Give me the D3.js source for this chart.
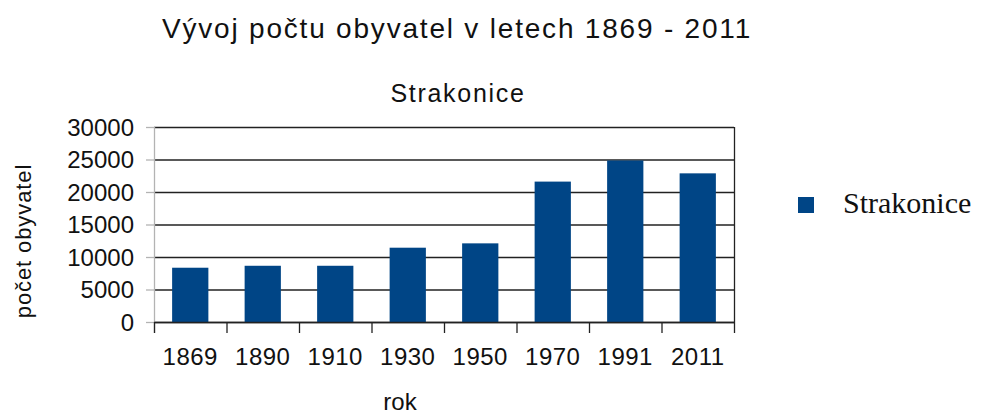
<!DOCTYPE html>
<html>
<head>
<meta charset="utf-8">
<script src="https://cdn.jsdelivr.net/npm/d3@7"></script>
<style>
    body { margin: 0; background: #ffffff; }
    text { font-family: "Liberation Sans", Arial, sans-serif; fill: #111; }
</style>
</head>
<body>
<div id="chart"></div>
<script>
"use strict";

const years = ["1869", "1890", "1910", "1930", "1950", "1970", "1991", "2011"];
const population = [8350, 8650, 8650, 11430, 12100, 21600, 24850, 22870];
const yTicks = [0, 5000, 10000, 15000, 20000, 25000, 30000];
const seriesName = "Strakonice";

const width = 981,
    height = 414;

const plot = {left: 154, right: 734, top: 127, bottom: 322};

const svg = d3.select("#chart").append("svg")
    .attr("width", width)
    .attr("height", height);

const x = d3.scaleBand()
    .domain(years)
    .range([plot.left, plot.right])
    .paddingInner(0.5)
    .paddingOuter(0.25);

const xEdges = d3.scaleLinear()
    .domain([0, years.length])
    .range([plot.left, plot.right]);

const y = d3.scaleLinear()
    .domain([0, 30000])
    .range([plot.bottom, plot.top]);

// grid lines
svg.append("g")
    .selectAll("line")
    .data(yTicks)
    .join("line")
    .attr("x1", plot.left)
    .attr("x2", plot.right)
    .attr("y1", d => y(d) + 0.5)
    .attr("y2", d => y(d) + 0.5)
    .attr("stroke", "#222")
    .attr("stroke-width", 1.3);

// left axis (grey) with outer ticks
svg.append("line")
    .attr("x1", plot.left + 0.5).attr("x2", plot.left + 0.5)
    .attr("y1", plot.top).attr("y2", plot.bottom + 11)
    .attr("stroke", "#b3b3b3").attr("stroke-width", 1.3);

svg.append("g")
    .selectAll("line")
    .data(yTicks)
    .join("line")
    .attr("x1", plot.left - 8)
    .attr("x2", plot.left)
    .attr("y1", d => y(d) + 0.5)
    .attr("y2", d => y(d) + 0.5)
    .attr("stroke", "#b3b3b3")
    .attr("stroke-width", 1.3);

// right border
svg.append("line")
    .attr("x1", plot.right + 0.5).attr("x2", plot.right + 0.5)
    .attr("y1", plot.top).attr("y2", plot.bottom + 11)
    .attr("stroke", "#222").attr("stroke-width", 1.3);

// x ticks at band edges
svg.append("g")
    .selectAll("line")
    .data(d3.range(years.length))
    .join("line")
    .attr("x1", d => xEdges(d) + 0.5)
    .attr("x2", d => xEdges(d) + 0.5)
    .attr("y1", plot.bottom)
    .attr("y2", plot.bottom + 11)
    .attr("stroke", "#222")
    .attr("stroke-width", 1.3);

// bars
svg.append("g")
    .selectAll("rect")
    .data(population)
    .join("rect")
    .attr("x", (d, i) => x(years[i]))
    .attr("width", x.bandwidth())
    .attr("y", d => y(d))
    .attr("height", d => y(0) - y(d))
    .attr("fill", "#004586");

// baseline over bars
svg.append("line")
    .attr("x1", plot.left).attr("x2", plot.right)
    .attr("y1", plot.bottom + 0.5).attr("y2", plot.bottom + 0.5)
    .attr("stroke", "#222").attr("stroke-width", 1.3);

// y tick labels
svg.append("g")
    .selectAll("text")
    .data(yTicks)
    .join("text")
    .attr("x", 134)
    .attr("y", d => y(d))
    .attr("dy", "0.36em")
    .attr("text-anchor", "end")
    .style("font-size", "24px")
    .text(d => d);

// x tick labels
svg.append("g")
    .selectAll("text")
    .data(years)
    .join("text")
    .attr("x", d => x(d) + x.bandwidth() / 2)
    .attr("y", 365)
    .attr("text-anchor", "middle")
    .style("font-size", "24px")
    .style("letter-spacing", "0.5px")
    .text(d => d);

// titles
svg.append("text")
    .attr("x", 457).attr("y", 38)
    .attr("text-anchor", "middle")
    .style("font-size", "28px")
    .style("letter-spacing", "1.8px")
    .text("Vývoj počtu obyvatel v letech 1869 - 2011");

svg.append("text")
    .attr("x", 458).attr("y", 102)
    .attr("text-anchor", "middle")
    .style("font-size", "25px")
    .style("letter-spacing", "1.7px")
    .text(seriesName);

svg.append("text")
    .attr("x", 400).attr("y", 410)
    .attr("text-anchor", "middle")
    .style("font-size", "24px")
    .text("rok");

svg.append("text")
    .attr("transform", "translate(31,241) rotate(-90)")
    .attr("text-anchor", "middle")
    .style("font-size", "22px")
    .style("letter-spacing", "0.9px")
    .text("počet obyvatel");

// legend
svg.append("rect")
    .attr("x", 798).attr("y", 197)
    .attr("width", 16).attr("height", 16)
    .attr("fill", "#004586");

svg.append("text")
    .attr("x", 843).attr("y", 213)
    .style("font-family", "'Liberation Serif', 'Times New Roman', serif")
    .style("font-size", "30px")
    .text(seriesName);
</script>
</body>
</html>
